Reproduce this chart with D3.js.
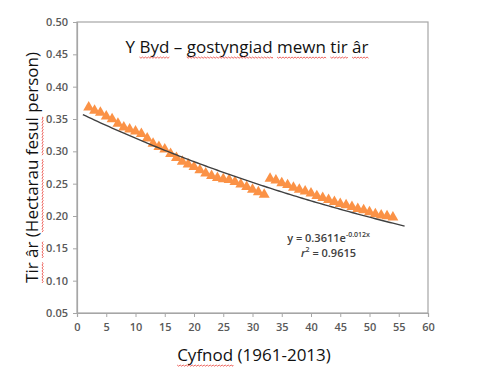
<!DOCTYPE html>
<meta charset="utf-8">
<style>
  body { margin: 0; background: #fff; }
  svg text { font-family: "Open Sans", "Liberation Sans", sans-serif; }
  .tick text { fill: #595959; font-size: 11px; font-weight: 600; }
</style>
<body>
<div id="chart"></div>
<script src="https://d3js.org/d3.v7.min.js"></script>
<script>
  // period index (1961 = 2 ... 2013 = 54)
  const years = d3.range(2, 55);
  // arable land, hectares per person
  const landPerPerson = [
    0.368, 0.363, 0.360, 0.354, 0.350, 0.343, 0.337, 0.334, 0.331, 0.327,
    0.320, 0.312, 0.307, 0.303, 0.296, 0.290, 0.284, 0.280, 0.276, 0.271,
    0.266, 0.262, 0.259, 0.257, 0.256, 0.253, 0.249, 0.245, 0.241, 0.237,
    0.233,
    0.258, 0.255, 0.251, 0.248, 0.244, 0.241, 0.238, 0.235, 0.231, 0.228,
    0.225, 0.222, 0.219, 0.217, 0.214, 0.211, 0.209, 0.206, 0.203, 0.201,
    0.200, 0.198
  ];
  // exponential trendline shown on the chart
  const trendA = 0.3611, trendB = -0.012;
  const trendRange = [1, 56];
  const xTicks = d3.range(0, 61, 5);
  const yTicks = d3.range(0.05, 0.5001, 0.05);

  const width = 480, height = 385;
  const m = { left: 77, right: 52, top: 22, bottom: 72 };

  const svg = d3.select("#chart").append("svg")
    .attr("width", width).attr("height", height);

  const x = d3.scaleLinear().domain([0, 60]).range([m.left, width - m.right]);
  const y = d3.scaleLinear().domain([0.05, 0.5]).range([height - m.bottom, m.top]);

  // plot frame
  svg.append("rect")
    .attr("x", x(0)).attr("y", y(0.5))
    .attr("width", x(60) - x(0)).attr("height", y(0.05) - y(0.5))
    .attr("fill", "none").attr("stroke", "#a6a6a6").attr("stroke-width", 1.2);

  const xAxis = svg.append("g")
    .attr("transform", `translate(0,${y(0.05)})`)
    .call(d3.axisBottom(x).tickValues(xTicks).tickSize(4).tickPadding(6));
  const yAxis = svg.append("g")
    .attr("transform", `translate(${x(0)},0)`)
    .call(d3.axisLeft(y).tickValues(yTicks).tickSize(4).tickPadding(5)
      .tickFormat(d3.format(".2f")));
  [xAxis, yAxis].forEach(g => {
    g.select(".domain").attr("stroke", "#a6a6a6").attr("stroke-width", 1.2);
    g.selectAll(".tick line").attr("stroke", "#a6a6a6");
  });

  // data points: orange triangles
  const tri = d3.symbol().type(d3.symbolTriangle).size(52);
  svg.append("g")
    .selectAll("path")
    .data(years.map((yr, i) => [yr, landPerPerson[i]]))
    .join("path")
      .attr("d", tri)
      .attr("transform", d => `translate(${x(d[0])},${y(d[1])})`)
      .attr("fill", "#fb9246");

  // trendline
  const trend = d3.range(trendRange[0], trendRange[1] + 0.01, 0.5)
    .map(t => [t, trendA * Math.exp(trendB * t)]);
  svg.append("path")
    .datum(trend)
    .attr("d", d3.line().x(d => x(d[0])).y(d => y(d[1])))
    .attr("fill", "none").attr("stroke", "#404040").attr("stroke-width", 1.4);

  // equation
  const eq = svg.append("text")
    .attr("x", x(43)).attr("y", y(0.16))
    .attr("text-anchor", "middle")
    .attr("font-size", 11).attr("font-weight", 600).attr("fill", "#404040");
  eq.append("tspan").text("y = 0.3611e");
  eq.append("tspan").attr("font-size", 7).attr("dy", -5).text("-0.012x");
  const r2 = svg.append("text")
    .attr("x", x(43)).attr("y", y(0.136))
    .attr("text-anchor", "middle")
    .attr("font-size", 11).attr("font-weight", 600).attr("fill", "#404040");
  r2.append("tspan").attr("font-style", "italic").text("r");
  r2.append("tspan").attr("font-size", 7).attr("dy", -5).text("2");
  r2.append("tspan").attr("dy", 5).text(" = 0.9615");

  // text with spell-check squiggles under the flagged words
  function label(g, str, flagged) {
    const t = g.append("text").attr("text-anchor", "middle")
      .attr("font-size", 17).attr("fill", "#111").text(str);
    const node = t.node();
    flagged.forEach(w => {
      const i0 = str.indexOf(w), i1 = i0 + w.length - 1;
      const a = node.getStartPositionOfChar(i0).x;
      const b = node.getEndPositionOfChar(i1).x;
      const yy = node.getStartPositionOfChar(i0).y + 4;
      let d = `M${a},${yy}`;
      for (let p = a, k = 0; p < b; p += 1.5, k++) d += `L${Math.min(p + 1.5, b)},${yy + (k % 2 ? 0 : 1.2)}`;
      g.append("path").attr("d", d).attr("fill", "none")
        .attr("stroke", "#e8413a").attr("stroke-width", 0.8);
    });
  }

  label(svg.append("g").attr("transform", "translate(247,53)"),
    "Y Byd – gostyngiad mewn tir âr", ["Byd", "gostyngiad", "mewn", "tir", "âr"]);
  label(svg.append("g").attr("transform", `translate(38,${(y(0.05) + y(0.5)) / 2}) rotate(-90)`),
    "Tir âr (Hectarau fesul person)", ["Tir", "âr", "Hectarau", "fesul"]);
  label(svg.append("g").attr("transform", "translate(254,361)"),
    "Cyfnod (1961-2013)", ["Cyfnod"]);
</script>
</body>
